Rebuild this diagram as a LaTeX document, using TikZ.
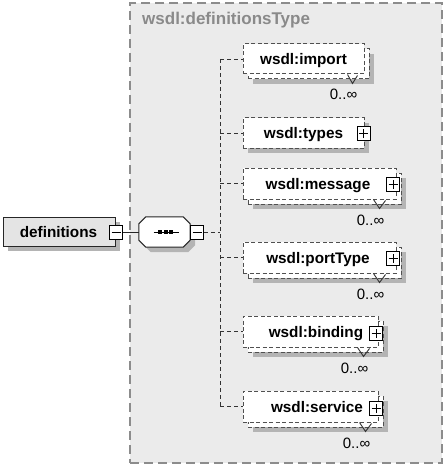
\documentclass[tikz,border=0pt]{standalone}
\usepackage{fontspec}
\setmainfont{Liberation Sans}
\usetikzlibrary{shadows,calc}
\definecolor{contfill}{HTML}{EBEBEB}
\definecolor{contdraw}{HTML}{8C8C8C}
\definecolor{titlec}{HTML}{8A8A8A}
\definecolor{shadc}{HTML}{B4B4B4}
\definecolor{deffill}{HTML}{E4E4E4}
\definecolor{bordc}{HTML}{505050}
\begin{document}
\begin{tikzpicture}[x=1pt,y=-1pt,
  container/.style={draw=contdraw, fill=contfill, line width=1.7pt, dash pattern=on 9pt off 5pt, inner sep=0pt},
  cbox/.style={draw=bordc, fill=white, line width=1pt, dash pattern=on 4pt off 2.5pt, inner sep=0pt},
  shad/.style={drop shadow={fill=shadc, opacity=1, shadow xshift=5pt, shadow yshift=-5pt}},
  solidbox/.style={draw=black!85, line width=1pt, inner sep=0pt},
  lbl/.style={font=\bfseries\fontsize{15.3}{18}\selectfont, inner sep=0pt, anchor=base},
  occ/.style={font=\fontsize{15}{18}\selectfont, inner sep=0pt, anchor=base},
  pm/.style={draw=black, fill=white, line width=0.8pt, minimum width=13pt, minimum height=14pt, inner sep=0pt},
  plusbox/.style={pm, path picture={\draw[line width=0.8pt] ([xshift=-4.5pt]path picture bounding box.center) -- ([xshift=4.5pt]path picture bounding box.center) ([yshift=-4.5pt]path picture bounding box.center) -- ([yshift=4.5pt]path picture bounding box.center);}},
  minusbox/.style={pm, path picture={\draw[line width=0.8pt] ([xshift=-4.5pt]path picture bounding box.center) -- ([xshift=4.5pt]path picture bounding box.center);}},
  dline/.style={draw=black!80, line width=0.9pt, dash pattern=on 4pt off 3pt},
  sline/.style={draw=black!85, line width=0.9pt},
  vmark/.style={draw=black!80, line width=0.9pt}
]
\useasboundingbox (0,0) rectangle (447,468);

% container
\node[container, minimum width=312pt, minimum height=460pt] (cont) at (286,233) {};
\node[font=\bfseries\fontsize{17}{20}\selectfont, text=titlec, inner sep=0pt, anchor=base west] (title) at (142,25) {wsdl:definitionsType};

% definitions element
\node[solidbox, fill=deffill, shad, minimum width=112pt, minimum height=29pt] (def) at (59,231.5) {};
\node[lbl] (defT) at (58.5,237) {definitions};
\node[minusbox] (defm) at (116,232) {};

% sequence compositor
\node[minimum width=51pt, minimum height=30pt, inner sep=0pt] (seq) at (164.5,232) {};
\draw[solidbox, fill=white, shad]
  ([xshift=7pt]seq.north west) -- ([xshift=-7pt]seq.north east) -- ([yshift=-7pt]seq.north east)
  -- ([yshift=7pt]seq.south east) -- ([xshift=-7pt]seq.south east) -- ([xshift=7pt]seq.south west)
  -- ([yshift=7pt]seq.south west) -- ([yshift=-7pt]seq.north west) -- cycle;
\draw[line width=1pt] ([xshift=-11pt]seq.center) -- ([xshift=14pt]seq.center);
\foreach \dx in {-4.5,1,6.5} {\fill ([xshift=\dx pt]seq.center) ++(-2,-2) rectangle ++(4,4);}
\node[minusbox] (seqm) at (197,232) {};

\draw[sline] (defm.east) -- (seq.west);
\coordinate (tx) at (220,232);
\draw[dline] (seqm.east) -- (tx);

% import (multi)
\node[cbox, shad, minimum width=121pt, minimum height=30pt] (importB) at (308.5,64) {};
\node[cbox, minimum width=121pt, minimum height=30pt] (import) at (303.5,59) {};
\node[lbl] (importT) at (303.5,64.5) {wsdl:import};
\draw[vmark] ([xshift=-17pt]import.south east) -- ([xshift=-12pt,yshift=-9pt]import.south east) -- ([xshift=-7pt,yshift=-1pt]import.south east);
\node[occ] (importO) at (343.5,100) {0..∞};

% types (single)
\node[cbox, shad, minimum width=121pt, minimum height=30pt] (types) at (303.5,133) {};
\node[lbl] (typesT) at (303.5,138.5) {wsdl:types};
\node[plusbox] (typesP) at (363.5,133.5) {};

% message (multi)
\node[cbox, shad, minimum width=153pt, minimum height=31pt] (messageB) at (324.5,188.5) {};
\node[cbox, minimum width=153pt, minimum height=31pt] (message) at (319.5,183.5) {};
\node[lbl] (messageT) at (318,189) {wsdl:message};
\node[plusbox] (messageP) at (393,184.5) {};
\draw[vmark] ([xshift=-23pt]message.south east) -- ([xshift=-17pt,yshift=-9pt]message.south east) -- ([xshift=-11pt,yshift=-1pt]message.south east);
\node[occ] (messageO) at (370.5,225) {0..∞};

% portType (multi)
\node[cbox, shad, minimum width=153pt, minimum height=31pt] (portTypeB) at (324.5,262.5) {};
\node[cbox, minimum width=153pt, minimum height=31pt] (portType) at (319.5,257.5) {};
\node[lbl] (portTypeT) at (318,263) {wsdl:portType};
\node[plusbox] (portTypeP) at (393,258) {};
\draw[vmark] ([xshift=-23pt]portType.south east) -- ([xshift=-17pt,yshift=-9pt]portType.south east) -- ([xshift=-11pt,yshift=-1pt]portType.south east);
\node[occ] (portTypeO) at (370.5,299) {0..∞};

% binding (multi)
\node[cbox, shad, minimum width=135pt, minimum height=31pt] (bindingB) at (315.5,336.5) {};
\node[cbox, minimum width=135pt, minimum height=31pt] (binding) at (310.5,331.5) {};
\node[lbl] (bindingT) at (316,337) {wsdl:binding};
\node[plusbox] (bindingP) at (376,333.5) {};
\draw[vmark] ([xshift=-21pt]binding.south east) -- ([xshift=-15pt,yshift=-9pt]binding.south east) -- ([xshift=-9pt,yshift=-1pt]binding.south east);
\node[occ] (bindingO) at (354.5,373) {0..∞};

% service (multi)
\node[cbox, shad, minimum width=135pt, minimum height=31pt] (serviceB) at (315.5,411.5) {};
\node[cbox, minimum width=135pt, minimum height=31pt] (service) at (310.5,406.5) {};
\node[lbl] (serviceT) at (317,412) {wsdl:service};
\node[plusbox] (serviceP) at (376,408) {};
\draw[vmark] ([xshift=-19pt]service.south east) -- ([xshift=-13pt,yshift=-9pt]service.south east) -- ([xshift=-7pt,yshift=-1pt]service.south east);
\node[occ] (serviceO) at (356.5,448) {0..∞};

% trunk and stubs
\draw[dline] (import.west -| tx) -- (service.west -| tx);
\foreach \n in {import,types,message,portType,binding,service} {
  \draw[dline] (\n.west -| tx) -- (\n.west);
}
\end{tikzpicture}
\end{document}
